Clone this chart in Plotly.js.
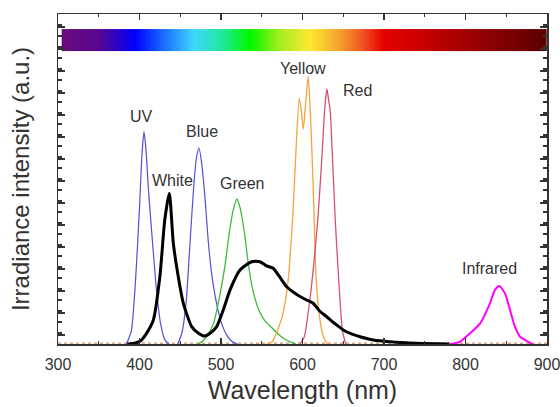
<!DOCTYPE html>
<html>
<head>
<meta charset="utf-8">
<script src="https://cdn.plot.ly/plotly-3.0.1.min.js"></script>
<style>html,body{margin:0;padding:0;background:#fff;}#chart{width:560px;height:407px;}</style>
</head>
<body>
<div id="chart"></div>
<script>
// ---- data (x: wavelength nm, y: irradiance a.u.) ----
const uvX = [384, 390, 395, 400, 403, 405.5, 408, 411, 416, 421, 426, 431, 436];
const uvY = [0, 0.6, 2.8, 6.2, 8.6, 9.65, 8.8, 7.0, 4.6, 2.4, 0.9, 0.2, 0];

const blueX = [447, 452, 457, 462, 467, 470, 473, 476, 480, 485, 490, 496, 502, 508, 514, 520];
const blueY = [0, 0.5, 1.8, 4.6, 7.4, 8.5, 8.91, 8.3, 6.8, 4.4, 2.8, 1.6, 0.8, 0.35, 0.1, 0];

const greenX = [472, 478, 485, 491, 499, 505, 510, 515, 519.6, 524, 529, 534, 540, 547, 554, 562, 570, 580, 592];
const greenY = [0, 0.15, 0.5, 0.95, 2.3, 3.6, 5.0, 6.1, 6.59, 6.1, 5.0, 3.5, 2.3, 1.5, 1.05, 0.75, 0.45, 0.18, 0];

const whiteX = [385, 395, 400.6, 408, 417, 425, 431, 436.6, 441.5, 447.6, 453.8, 464, 472, 480, 487, 494.7, 502.8, 511, 523.3, 537.6, 547.8, 556, 564, 572, 580.6, 593, 605, 613, 621, 629.7, 640, 650, 660, 670.6, 687, 707, 740, 780];
const whiteY = [0, 0.05, 0.12, 0.45, 1.09, 3.06, 5.64, 6.85, 4.58, 3.06, 1.85, 0.79, 0.5, 0.36, 0.5, 0.79, 1.55, 2.45, 3.36, 3.74, 3.74, 3.55, 3.44, 3.05, 2.6, 2.25, 2.0, 1.85, 1.5, 1.24, 0.92, 0.64, 0.46, 0.33, 0.18, 0.1, 0.03, 0];

const yellowX = [556, 563, 568, 575, 582, 588, 592, 596, 598.5, 601, 604, 607, 610, 613, 617, 622, 626, 631];
const yellowY = [0, 0.1, 0.5, 1.23, 2.77, 5.77, 8.8, 11.18, 10.6, 9.77, 11.0, 12.18, 10.2, 7.3, 2.77, 0.95, 0.3, 0];

const redX = [597, 602, 609, 614, 619, 624, 627.5, 630, 632, 634, 637, 640, 643, 646, 649, 653];
const redY = [0, 0.3, 2.0, 3.7, 5.77, 8.6, 10.8, 11.59, 11.1, 10.6, 8.3, 5.77, 3.8, 2.0, 0.6, 0];

const irX = [781, 793, 805.5, 818, 830, 836, 841.5, 848.5, 854.6, 860.7, 867, 877, 882];
const irY = [0, 0.1, 0.49, 0.94, 1.85, 2.45, 2.64, 2.3, 1.55, 0.79, 0.33, 0.1, 0];

const baseX = [300, 900];
const baseY = [0.04, 0.04];

// spectrum colour bar: wavelength stops and colours
const specNm = [305, 350, 394, 430, 466, 500, 535, 572, 609, 646, 674, 699, 760, 802, 900];
const specColors = ['#6c0a80', '#55088f', '#0000ff', '#1a70ff', '#40d8ff', '#20e8a0', '#00f800', '#a8ec20',
                    '#ffe830', '#f5a030', '#f05020', '#e60000', '#c00000', '#a00000', '#5a0000'];

// labels
const labelText = ['UV', 'Blue', 'White', 'Green', 'Yellow', 'Red', 'Infrared'];
const labelX = [403, 477, 441, 526, 600, 667, 830];
const labelY = [10.33, 9.65, 7.42, 7.3, 12.53, 11.52, 3.44];

// ---- build ----
const nmMin = specNm[0], nmMax = specNm[specNm.length - 1];
const colorscale = specNm.map((v, i) => [(v - nmMin) / (nmMax - nmMin), specColors[i]]);
const barX = [];
for (let v = nmMin; v <= nmMax; v += 1) barX.push(v);

function line(x, y, color, width) {
  return {type: 'scatter', mode: 'lines', x: x, y: y, line: {color: color, width: width, shape: 'spline', smoothing: 0.6},
          hoverinfo: 'skip', showlegend: false};
}

const traces = [
  {type: 'heatmap', x: barX, y: [13.815], z: [barX], dy: 1.27, colorscale: colorscale, zmin: nmMin, zmax: nmMax,
   zsmooth: 'best', showscale: false, hoverinfo: 'skip'},
  {type: 'scatter', mode: 'lines', x: baseX, y: baseY, line: {color: '#c8783c', width: 1, dash: 'dot'}, hoverinfo: 'skip', showlegend: false},
  line(uvX, uvY, '#5050d8', 1.2),
  line(blueX, blueY, '#5050d8', 1.2),
  line(greenX, greenY, '#3cba3c', 1.3),
  line(yellowX, yellowY, '#f5a33c', 1.3),
  line(redX, redY, '#d9506e', 1.3),
  line(irX, irY, '#ff00ff', 2),
  line(whiteX, whiteY, '#000000', 3)
];

const font = {family: 'Liberation Sans, Arial, sans-serif', color: '#333333'};

const layout = {
  width: 560, height: 407,
  margin: {l: 58, r: 13, t: 14, b: 63},
  paper_bgcolor: '#ffffff', plot_bgcolor: '#ffffff',
  font: font,
  showlegend: false,
  xaxis: {
    range: [300, 900], tick0: 300, dtick: 100, ticks: 'inside', ticklen: 6, tickwidth: 1.2, tickcolor: '#333',
    minor: {dtick: 50, ticks: 'inside', ticklen: 3, tickwidth: 1.2, tickcolor: '#333'},
    showline: true, linecolor: '#333', linewidth: 1.5, mirror: 'ticks', showgrid: false, zeroline: false,
    tickfont: {family: font.family, size: 16, color: '#333'}, ticklabelstandoff: 5, ticklabeloverflow: 'allow',
    title: {text: 'Wavelength (nm)', font: {family: font.family, size: 25, color: '#333'}, standoff: 10}
  },
  yaxis: {
    range: [0, 15], tick0: 0.41, dtick: 1, ticks: 'inside', ticklen: 7, tickwidth: 1.2, tickcolor: '#333',
    minor: {dtick: 0.5, ticks: 'inside', ticklen: 4, tickwidth: 1.2, tickcolor: '#333'},
    showline: true, linecolor: '#333', linewidth: 1.5, mirror: 'ticks', showgrid: false, zeroline: false,
    showticklabels: false,
    title: {text: 'Irradiance intensity (a.u.)', font: {family: font.family, size: 24, color: '#333'}, standoff: 20}
  },
  annotations: labelText.map((t, i) => ({
    x: labelX[i], y: labelY[i], xref: 'x', yref: 'y', text: t, showarrow: false,
    font: {family: font.family, size: 16, color: '#333'}
  }))
};

Plotly.newPlot('chart', traces, layout, {displayModeBar: false, staticPlot: true});
</script>
</body>
</html>
